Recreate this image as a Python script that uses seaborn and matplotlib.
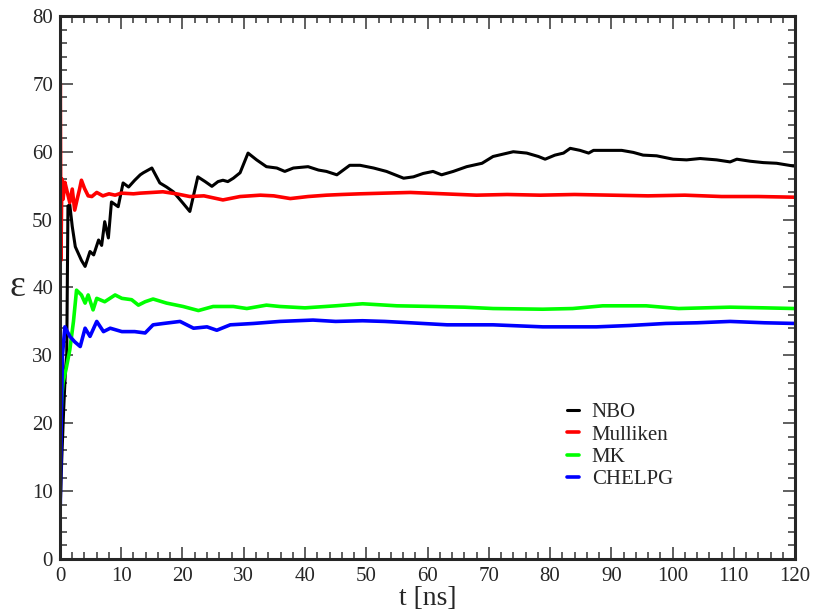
import pandas as pd
import matplotlib
matplotlib.use("Agg")
import matplotlib.pyplot as plt
import seaborn as sns
from matplotlib.ticker import MultipleLocator

sns.set_style("ticks")
plt.rcParams["font.family"] = ["Liberation Serif", "DejaVu Serif"]

# NBO (black)
t_nbo = [0.05, 0.3, 0.6, 0.9, 1.1, 1.3, 1.6, 2.0, 2.5, 3.0, 3.5, 4.1, 4.9, 5.5, 6.3, 6.8, 7.3, 7.9, 8.4,
         9.5, 10.3, 11.2, 12.2, 13.1, 13.6, 15.0, 16.3, 17.4, 18.5, 20.1, 21.2, 22.5, 23.7, 24.8, 25.8,
         26.6, 27.4, 28.3, 29.4, 30.7, 32.1, 33.7, 35.4, 36.7, 38.1, 40.5, 42.2, 43.5, 45.2, 47.3, 49.0,
         51.2, 53.3, 56.1, 57.7, 59.3, 60.9, 62.3, 64.2, 66.4, 68.9, 70.7, 74.0, 76.2, 78.1, 79.2, 80.8,
         82.2, 83.3, 84.9, 86.3, 87.1, 89.8, 91.7, 93.6, 95.2, 97.4, 100.1, 102.3, 104.5, 107.2, 109.4,
         110.5, 112.7, 114.8, 117.0, 119.7, 120.0]
y_nbo = [8.0, 15.0, 22.0, 28.0, 30.0, 52.0, 52.2, 49.0, 46.0, 45.0, 44.0, 43.1, 45.3, 44.8, 47.0, 46.2, 49.7,
         47.3, 52.6, 51.9, 55.4, 54.8, 55.8, 56.6, 56.9, 57.6, 55.4, 54.8, 54.1, 52.4, 51.2, 56.3, 55.6,
         54.9, 55.6, 55.8, 55.6, 56.1, 56.9, 59.8, 58.8, 57.8, 57.6, 57.1, 57.6, 57.8, 57.3, 57.1, 56.6,
         58.0, 58.0, 57.6, 57.1, 56.1, 56.3, 56.8, 57.1, 56.6, 57.1, 57.8, 58.3, 59.3, 60.0, 59.8, 59.3,
         58.9, 59.5, 59.8, 60.5, 60.2, 59.8, 60.2, 60.2, 60.2, 59.9, 59.5, 59.4, 58.9, 58.8, 59.0, 58.8,
         58.5, 58.9, 58.6, 58.4, 58.3, 57.9, 57.9]

# Mulliken (red)
t_mul = [0.0, 0.05, 0.15, 0.3, 0.5, 0.8, 1.2, 1.6, 2.0, 2.4, 2.8, 3.2, 3.5, 4.0, 4.6, 5.2, 6.0, 7.0, 8.0,
         9.0, 10.0, 12.0, 13.1, 15.0, 16.8, 19.0, 21.2, 23.5, 26.6, 29.4, 32.7, 34.9, 37.6, 40.5, 43.5,
         46.0, 49.0, 53.0, 57.2, 62.6, 68.0, 73.0, 78.4, 84.0, 90.0, 96.0, 102.0, 108.0, 114.0, 120.0]
y_mul = [62.0, 70.0, 44.0, 56.0, 53.0, 55.5, 54.0, 52.5, 54.5, 51.4, 53.0, 54.5, 55.8, 54.6, 53.5, 53.4,
         54.0, 53.5, 53.8, 53.6, 53.9, 53.8, 53.9, 54.0, 54.1, 53.8, 53.4, 53.5, 52.9, 53.4, 53.6, 53.5,
         53.1, 53.4, 53.6, 53.7, 53.8, 53.9, 54.0, 53.8, 53.6, 53.7, 53.6, 53.7, 53.6, 53.5, 53.6, 53.4,
         53.4, 53.3]

# MK (green)
t_mk = [0.1, 0.3, 0.5, 1.0, 1.6, 2.2, 2.7, 3.5, 4.1, 4.6, 5.4, 6.0, 7.3, 9.0, 10.1, 11.7, 12.8, 13.9,
        15.2, 17.4, 20.1, 22.6, 25.0, 28.3, 30.5, 33.7, 35.9, 40.0, 45.0, 49.4, 55.0, 61.0, 66.0, 70.7,
        78.8, 83.7, 88.6, 95.7, 101.0, 109.4, 115.0, 120.0]
y_mk = [20.0, 24.0, 26.0, 28.0, 30.8, 35.0, 39.6, 38.9, 37.7, 38.9, 36.7, 38.4, 37.9, 38.9, 38.4, 38.2,
        37.4, 37.9, 38.3, 37.7, 37.2, 36.6, 37.2, 37.2, 36.9, 37.4, 37.2, 37.0, 37.3, 37.6, 37.3, 37.2,
        37.1, 36.9, 36.8, 36.9, 37.3, 37.3, 36.9, 37.1, 37.0, 36.9]

# CHELPG (blue)
t_ch = [0.05, 0.2, 0.4, 0.8, 1.6, 2.4, 3.3, 4.1, 4.9, 6.0, 7.1, 8.2, 10.1, 12.2, 13.9, 15.2, 16.9, 19.6,
        21.8, 24.0, 25.6, 27.8, 31.6, 35.9, 41.3, 45.0, 49.4, 53.0, 57.2, 63.2, 70.7, 78.8, 87.6, 93.0,
        98.9, 104.0, 109.4, 115.0, 120.0]
y_ch = [8.0, 20.0, 30.0, 34.2, 32.8, 32.0, 31.3, 34.0, 32.8, 35.0, 33.5, 34.0, 33.5, 33.5, 33.3, 34.5,
        34.7, 35.0, 34.0, 34.2, 33.7, 34.5, 34.7, 35.0, 35.2, 35.0, 35.1, 35.0, 34.8, 34.5, 34.5, 34.2,
        34.2, 34.4, 34.7, 34.8, 35.0, 34.8, 34.7]

names = ["NBO", "Mulliken", "MK", "CHELPG"]
colors = ["black", "red", "#00ff00", "blue"]

df = pd.concat([
    pd.DataFrame({"t": t_nbo, "eps": y_nbo, "set": "NBO"}),
    pd.DataFrame({"t": t_mul, "eps": y_mul, "set": "Mulliken"}),
    pd.DataFrame({"t": t_mk, "eps": y_mk, "set": "MK"}),
    pd.DataFrame({"t": t_ch, "eps": y_ch, "set": "CHELPG"}),
])

fig = plt.figure(figsize=(8.14, 6.12), dpi=100)
ax = fig.add_axes([0.0737, 0.0866, 0.903, 0.8873])

for name, c in zip(names, colors):
    sub = df[df["set"] == name]
    sns.lineplot(data=sub, x="t", y="eps", color=c, lw=2.2 if name == "NBO" else 2.6,
                 estimator=None, sort=False, label=name, ax=ax)

ax.set_xlim(0, 120)
ax.set_ylim(0, 80)
ax.xaxis.set_major_locator(MultipleLocator(10))
ax.xaxis.set_minor_locator(MultipleLocator(2))
ax.yaxis.set_major_locator(MultipleLocator(10))
ax.yaxis.set_minor_locator(MultipleLocator(2))
ax.tick_params(which="both", direction="in", top=True, right=True, labelsize=15, width=1.2, color="#444444")
ax.tick_params(which="major", length=9)
ax.tick_params(axis="x", which="major", pad=6)
ax.tick_params(axis="y", which="major", pad=5)
ax.tick_params(which="minor", length=5)
for s in ax.spines.values():
    s.set_linewidth(2.2)

ax.set_xlabel("t [ns]", fontsize=20, labelpad=0)
ax.set_ylabel("ε", fontsize=27, rotation=0)
ax.yaxis.set_label_coords(-0.058, 0.47)

leg = ax.legend(loc="upper left", bbox_to_anchor=(0.664, 0.322), frameon=False, fontsize=15,
                handlelength=0.6, handletextpad=0.6, labelspacing=0.13)

fig.savefig("out.png", dpi=100)
